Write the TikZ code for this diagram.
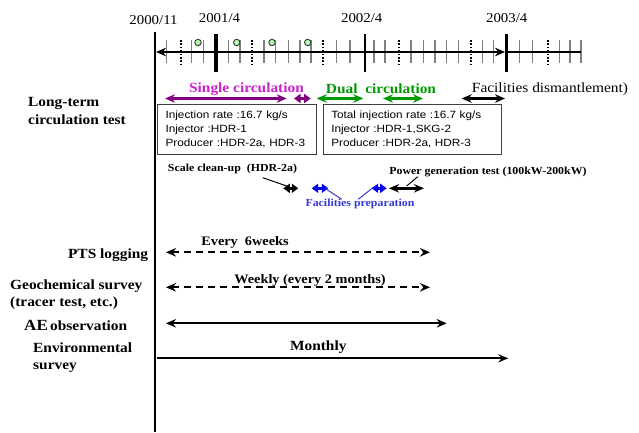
\documentclass[tikz,border=0pt]{standalone}
\usepackage{fontspec}
\setmainfont{Liberation Serif}[FakeStretch=1.1]
\newfontfamily\arialf{Liberation Sans}[FakeStretch=1.12]
\usetikzlibrary{arrows.meta}
\definecolor{purp}{HTML}{800080}
\definecolor{magt}{HTML}{CC22CC}
\definecolor{grn}{HTML}{009900}
\definecolor{blu}{HTML}{0000EE}
\definecolor{blut}{HTML}{3838D8}
\tikzset{
  lbl/.style={font=\bfseries\fontsize{14}{17.5}\selectfont, inner sep=0pt, align=left},
  yearlbl/.style={font=\fontsize{13.5}{16}\selectfont, inner sep=0pt},
  smalllbl/.style={font=\bfseries\fontsize{10.8}{13}\selectfont, inner sep=0pt},
  infobox/.style={draw=black!75, line width=1.1pt, font=\arialf\fontsize{10.5}{14.2}\selectfont,
     align=left, inner xsep=8pt, inner ysep=0pt, minimum height=50pt, anchor=north west},
  tickln/.style={black!50, line width=1.5pt},
  dotln/.style={black, line width=2.2pt, dash pattern=on 1.6pt off 1.8pt},
  majorln/.style={black, line width=2.6pt},
  tip/.style={-{Stealth[length=10pt,width=8pt]}},
  dtip/.style={{Stealth[length=10pt,width=8.5pt]}-{Stealth[length=10pt,width=8.5pt]}},
  stip/.style={{Triangle[length=6.5pt,width=9pt]}-{Triangle[length=6.5pt,width=9pt]}},
  dashln/.style={line width=2pt, dash pattern=on 7pt off 5pt},
  ptr/.style={line width=1pt},
}
\begin{document}
\begin{tikzpicture}[x=1pt,y=-1pt]
\useasboundingbox (0,0) rectangle (639,432);

% ---------- time axis ----------
\foreach \t in {166.7,191.7,203.3,228.3,240,264,275.7,288.3,300,311,336.7,350,374,385,411,423.3,435,446.7,458.3,482.7,493.3,519.3,532.7,559.3,570,581}
  \draw[tickln] (\t,40) -- (\t,63);
\foreach \t in {181,252.3,322.7,399.3,470.7,547.7}
  \draw[dotln] (\t,40) -- (\t,64);
\draw[black, line width=3.4pt] (216,34) -- (216,72);
\draw[majorln] (365,34) -- (365,72);
\draw[majorln] (506.7,34) -- (506.7,72);
\draw[black, line width=2.6pt] (155,32) -- (155,432);
\coordinate (axL) at (156,52);
\coordinate (axR) at (505,52);
\coordinate (axE) at (581,52);
\draw[line width=2.6pt, dtip] (axL) -- (axR);
\draw[line width=2.6pt] (axR) -- (axE);
\foreach \c in {198,236.7,272,307.7}
  \draw[black!80, line width=0.9pt, fill=green!30] (\c,42.5) circle (3.2pt);

\node[yearlbl] (y0) at (153.5,20) {2000/11};
\node[yearlbl] (y1) at (219.5,18) {2001/4};
\node[yearlbl] (y2) at (361.7,18) {2002/4};
\node[yearlbl] (y3) at (506.7,18) {2003/4};

% ---------- long-term circulation test ----------
\node[lbl, anchor=west] (ltc) at (28,111) {Long-term\\circulation test};

\node[lbl, text=magt] (sctxt) at (246.5,89) {Single circulation};
\node[lbl, text=grn] (dctxt) at (381,89) {Dual\ \ circulation};
\node[lbl, font=\fontsize{14}{17}\selectfont] (fdtxt) at (550,89) {Facilities dismantlement)};

\coordinate (s1a) at (165,98.5);   \coordinate (s1b) at (286.7,98.5);
\coordinate (s2a) at (294,98.5);   \coordinate (s2b) at (310.7,98.5);
\coordinate (d1a) at (316.7,98.5); \coordinate (d1b) at (363.3,98.5);
\coordinate (d2a) at (383,98.5);   \coordinate (d2b) at (423,98.5);
\coordinate (f1a) at (461.7,98.5); \coordinate (f1b) at (505,98.5);
\draw[purp, line width=2.6pt, dtip] (s1a) -- (s1b);
\draw[purp, line width=2.6pt, stip] (s2a) -- (s2b);
\draw[grn, line width=2.4pt, dtip] (d1a) -- (d1b);
\draw[grn, line width=2.4pt, dtip] (d2a) -- (d2b);
\draw[black, line width=2.4pt, dtip] (f1a) -- (f1b);

\node[infobox, text width=143pt] (box1) at (157,104)
  {Injection rate :16.7 kg/s\\Injector :HDR-1\\Producer :HDR-2a, HDR-3};
\node[infobox, text width=162pt] (box2) at (322.7,104)
  {Total injection rate :16.7 kg/s\\Injector :HDR-1,SKG-2\\Producer :HDR-2a, HDR-3};

% ---------- scale clean-up / preparation / power generation ----------
\node[smalllbl] (scl) at (232.5,169.3) {Scale clean-up\ \ (HDR-2a)};
\node[smalllbl] (pgt) at (488,171.7) {Power generation test (100kW-200kW)};
\node[smalllbl, text=blut] (fpr) at (360,204) {Facilities preparation};

\coordinate (k1a) at (283.3,188.3); \coordinate (k1b) at (298.3,188.3);
\coordinate (b1a) at (311.7,188.3); \coordinate (b1b) at (328.3,188.3);
\coordinate (b2a) at (371.7,188.3); \coordinate (b2b) at (386.7,188.3);
\coordinate (k2a) at (389,188.3);   \coordinate (k2b) at (424,188.3);
\draw[black, line width=2.4pt, stip] (k1a) -- (k1b);
\draw[blu, line width=2.4pt, stip] (b1a) -- (b1b);
\draw[blu, line width=2.4pt, stip] (b2a) -- (b2b);
\draw[black, line width=2.4pt, dtip] (k2a) -- (k2b);

\coordinate (p1s) at (262.7,177.7); \coordinate (p1e) at (286.7,186);
\coordinate (p2s) at (417.7,176.7); \coordinate (p2e) at (406.7,186);
\coordinate (p3s) at (341.7,199.3); \coordinate (p3e) at (325,188.3);
\coordinate (p4s) at (358.3,199.3); \coordinate (p4e) at (373.3,187.3);
\draw[ptr] (p1s) -- (p1e);
\draw[ptr] (p2s) -- (p2e);
\draw[ptr, blut] (p3s) -- (p3e);
\draw[ptr, blut] (p4s) -- (p4e);

% ---------- monitoring rows ----------
\node[lbl, anchor=east] (pts) at (148.3,255) {PTS logging};
\node[lbl, anchor=west] (geo) at (10,294.5) {Geochemical survey\\(tracer test, etc.)};
\node[lbl, anchor=west] (ae) at (24,325) {{\fontsize{15.5}{18}\selectfont AE}\,observation};
\node[lbl, anchor=west] (env) at (33,357.5) {Environmental\\survey};

\node[lbl, font=\bfseries\fontsize{13}{16}\selectfont] (ev6) at (245,242.7) {Every\ \ 6weeks};
\node[lbl, font=\bfseries\fontsize{13}{16}\selectfont] (wkl) at (310,280.7) {Weekly (every 2 months)};
\node[lbl] (mth) at (318.3,346.7) {Monthly};

\coordinate (ptsA) at (166,252.3); \coordinate (ptsB) at (430,252.3);
\coordinate (geoA) at (166,287.3); \coordinate (geoB) at (430,287.3);
\coordinate (aeA) at (166,323.3);  \coordinate (aeB) at (446.7,323.3);
\coordinate (envA) at (156.7,358.3); \coordinate (envB) at (508.3,358.3);
\draw[dashln, dtip] (ptsA) -- (ptsB);
\draw[dashln, dtip] (geoA) -- (geoB);
\draw[line width=2.2pt, dtip] (aeA) -- (aeB);
\draw[line width=2.2pt, tip] (envA) -- (envB);
\end{tikzpicture}
\end{document}
